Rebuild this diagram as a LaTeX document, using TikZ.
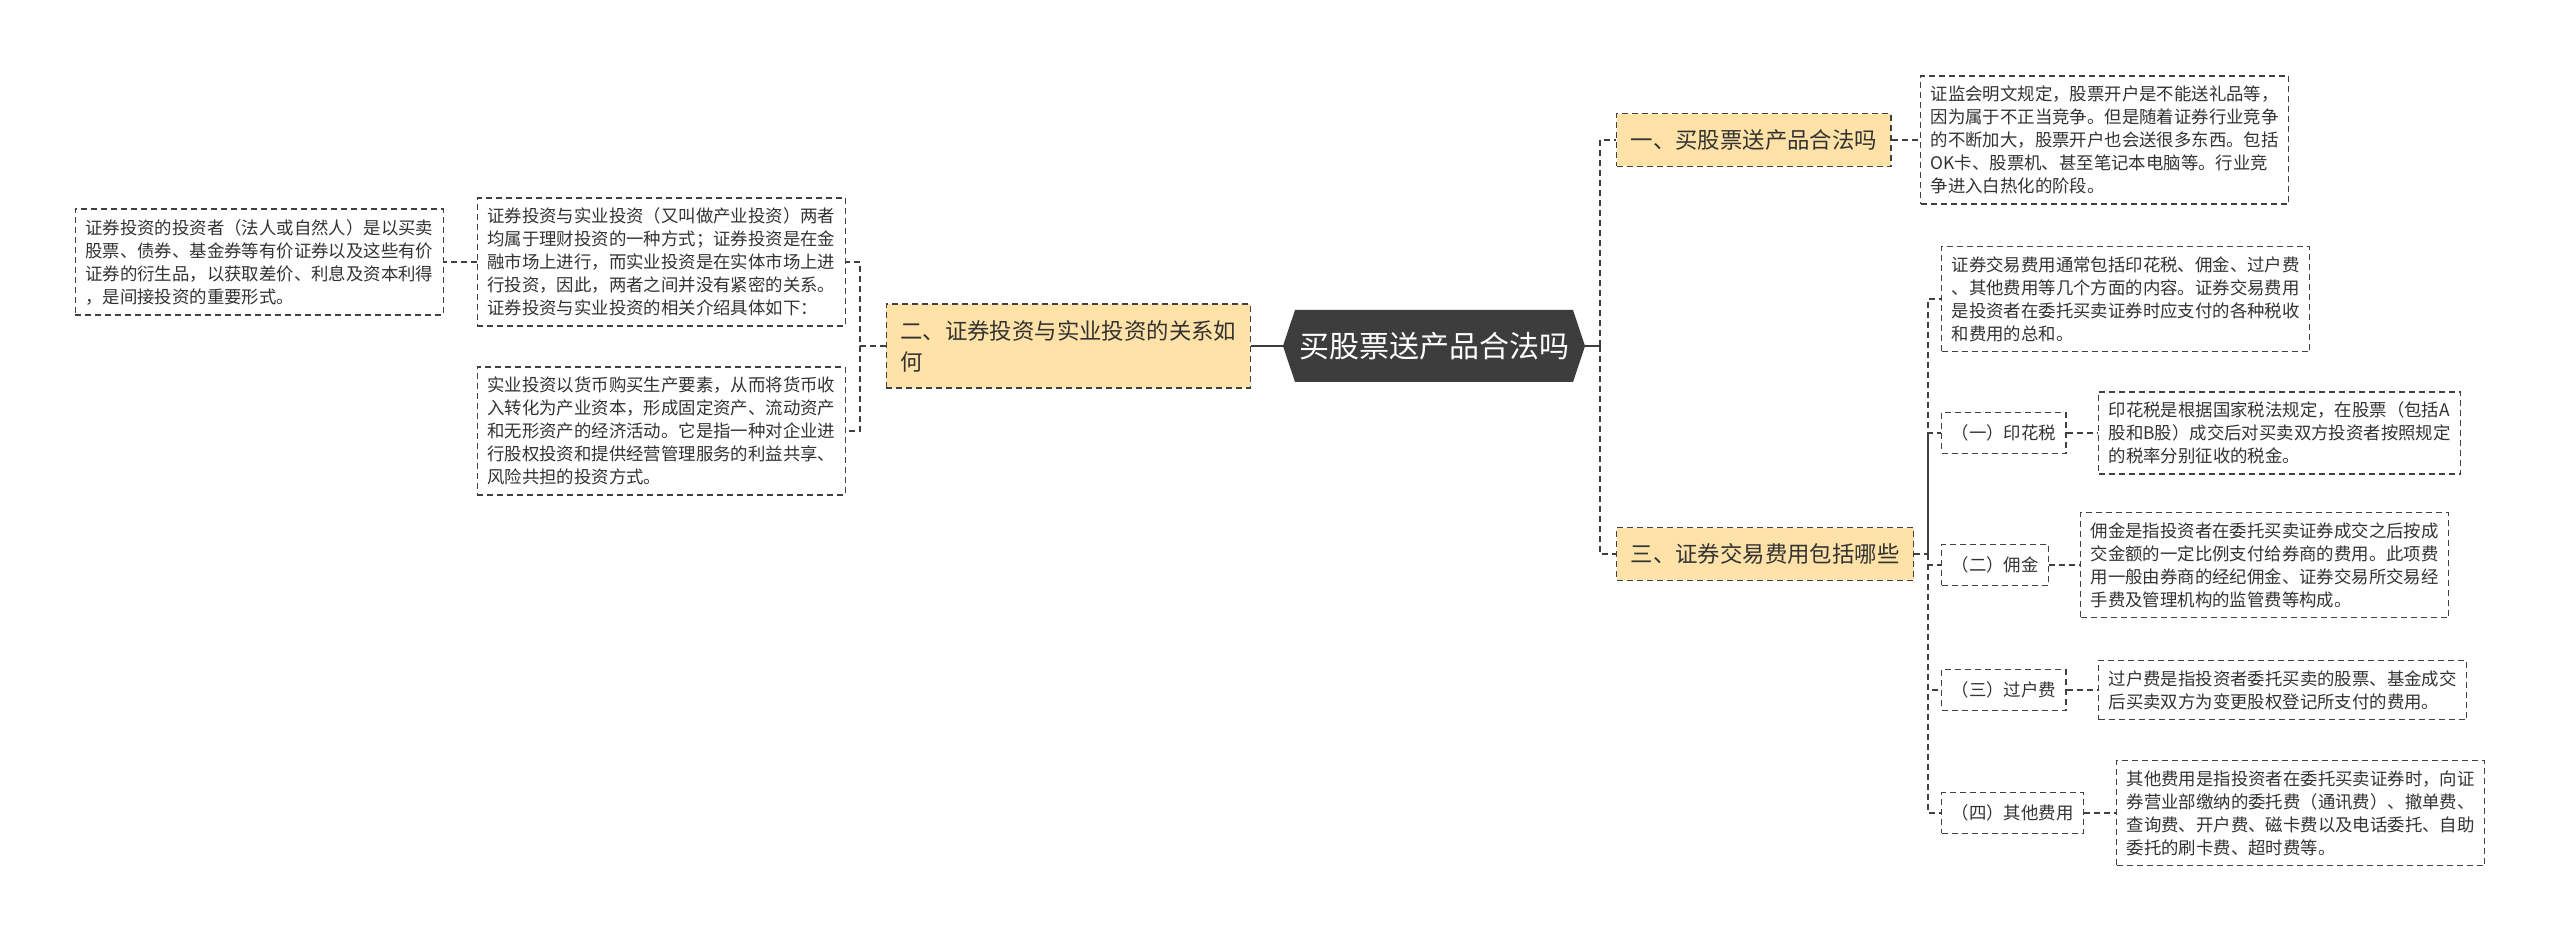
\documentclass[tikz,border=0pt]{standalone}
\usepackage{fontspec}
\usepackage{tikz}
\usetikzlibrary{shapes.symbols}
\setmainfont{Noto Sans CJK SC}
\definecolor{mmdark}{HTML}{3D3D3D}
\definecolor{mmline}{HTML}{404040}
\definecolor{mmtext}{HTML}{333333}
\definecolor{mmsand}{HTML}{FEE2A8}
\newcommand{\lf}{\fontsize{8.7pt}{11.5pt}\selectfont}

\begin{document}
\begin{tikzpicture}[
  x=0.5pt, y=-0.5pt,
  rootbox/.style={signal, signal to=east and west, signal pointer angle=143, fill=mmdark, text=white, minimum height=36pt, minimum width=146pt, inner xsep=2pt, font=\fontsize{15pt}{18pt}\selectfont},
  branchbox/.style={draw=mmline, dash pattern=on 3pt off 2pt, line width=0.7pt, fill=mmsand, text=mmtext, align=left, inner xsep=7pt, inner ysep=8pt, font=\fontsize{11.2pt}{15.5pt}\selectfont},
  leafbox/.style={draw=mmline, dash pattern=on 3pt off 2pt, line width=0.7pt, text=mmtext, align=left, inner xsep=5pt, inner ysep=5pt, font=\lf},
  subbox/.style={leafbox, inner ysep=6pt},
  linkline/.style={draw=mmline, dash pattern=on 3pt off 2pt, line width=0.7pt},
  trunkline/.style={draw=mmdark, dash pattern=on 3pt off 2pt, line width=1.2pt},
  solidline/.style={draw=mmdark, line width=1pt}
]
\fill[white] (0,0) rectangle (2560,940);
\useasboundingbox (0,0) rectangle (2560,940);

\node[rootbox] (root) at (1434,346) {买股票送产品合法吗};
\node[branchbox, anchor=east] (b2) at (1251,346) {二、证券投资与实业投资的关系如\\何};
\node[branchbox, anchor=west] (b1) at (1616,140) {一、买股票送产品合法吗};
\node[branchbox, anchor=west] (b3) at (1616,554) {三、证券交易费用包括哪些};

\node[leafbox, anchor=east] (l1) at (846,262) {证券投资与实业投资（又叫做产业投资）两者\\均属于理财投资的一种方式；证券投资是在金\\融市场上进行，而实业投资是在实体市场上进\\行投资，因此，两者之间并没有紧密的关系。\\证券投资与实业投资的相关介绍具体如下：};
\node[leafbox, anchor=east] (l2) at (846,431) {实业投资以货币购买生产要素，从而将货币收\\入转化为产业资本，形成固定资产、流动资产\\和无形资产的经济活动。它是指一种对企业进\\行股权投资和提供经营管理服务的利益共享、\\风险共担的投资方式。};
\node[leafbox, anchor=east] (l0) at (444,262) {证券投资的投资者（法人或自然人）是以买卖\\股票、债券、基金券等有价证券以及这些有价\\证券的衍生品，以获取差价、利息及资本利得\\，是间接投资的重要形式。};

\node[leafbox, anchor=west] (a1) at (1920,140) {证监会明文规定，股票开户是不能送礼品等，\\因为属于不正当竞争。但是随着证券行业竞争\\的不断加大，股票开户也会送很多东西。包括\\OK卡、股票机、甚至笔记本电脑等。行业竞\\争进入白热化的阶段。};
\node[leafbox, anchor=west] (intro) at (1941,299) {证券交易费用通常包括印花税、佣金、过户费\\、其他费用等几个方面的内容。证券交易费用\\是投资者在委托买卖证券时应支付的各种税收\\和费用的总和。};

\node[subbox, anchor=west] (s1) at (1941,433) {（一）印花税};
\node[leafbox, anchor=west] (t1) at (2098,433) {印花税是根据国家税法规定，在股票（包括A\\股和B股）成交后对买卖双方投资者按照规定\\的税率分别征收的税金。};
\node[subbox, anchor=west] (s2) at (1941,565) {（二）佣金};
\node[leafbox, anchor=west] (t2) at (2080,565) {佣金是指投资者在委托买卖证券成交之后按成\\交金额的一定比例支付给券商的费用。此项费\\用一般由券商的经纪佣金、证券交易所交易经\\手费及管理机构的监管费等构成。};
\node[subbox, anchor=west] (s3) at (1941,690) {（三）过户费};
\node[leafbox, anchor=west] (t3) at (2098,690) {过户费是指投资者委托买卖的股票、基金成交\\后买卖双方为变更股权登记所支付的费用。};
\node[subbox, anchor=west] (s4) at (1941,813) {（四）其他费用};
\node[leafbox, anchor=west] (t4) at (2116,813) {其他费用是指投资者在委托买卖证券时，向证\\券营业部缴纳的委托费（通讯费）、撤单费、\\查询费、开户费、磁卡费以及电话委托、自助\\委托的刷卡费、超时费等。};

\coordinate (jl) at (860,346);
\coordinate (jr) at (1600,346);
\coordinate (jb) at (1928,554);

\draw[solidline] (root.west) -- (b2.east); \draw[solidline] (root.east) -- (jr);
\draw[trunkline] (jr) |- (b1.west); \draw[trunkline] (jr) |- (b3.west);
\draw[linkline] (b2.west) -- (jl) |- (l1.east); \draw[linkline] (jl) |- (l2.east);
\draw[linkline] (l1.west) -- (l0.east);
\draw[linkline] (b1.east) -- (a1.west);
\draw[linkline] (b3.east) -- (jb) |- (intro.west);
\draw[linkline] (jb) |- (s1.west); \draw[linkline] (jb) |- (s2.west); \draw[linkline] (jb) |- (s3.west); \draw[linkline] (jb) |- (s4.west);
\draw[linkline] (s1.east) -- (t1.west); \draw[linkline] (s2.east) -- (t2.west); \draw[linkline] (s3.east) -- (t3.west); \draw[linkline] (s4.east) -- (t4.west);
\end{tikzpicture}
\end{document}
